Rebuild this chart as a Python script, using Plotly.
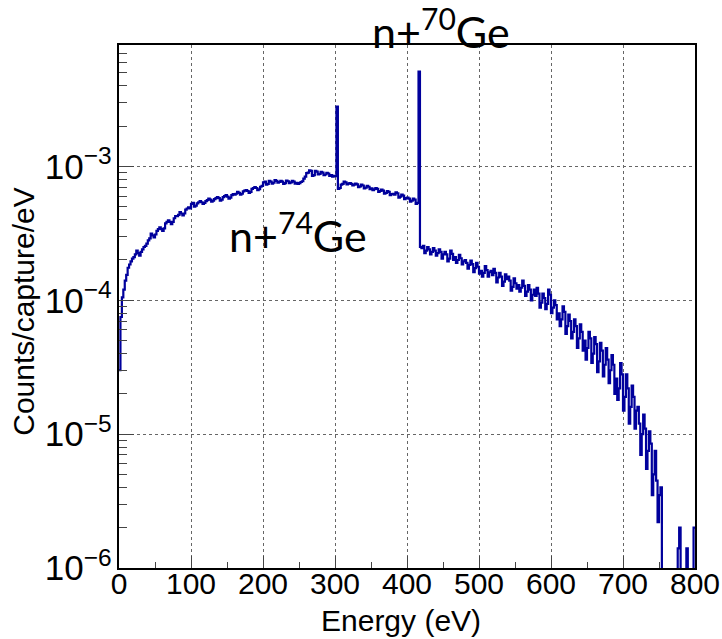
import numpy as np
import plotly.graph_objects as go

# Histogram: 2 eV bins from 0 to 800 eV; values in units of 1e-4 counts/capture/eV
bin_width_eV = 2
counts_e4 = [
    # 0-40 eV
    0.30, 0.75, 1.05, 1.20, 1.40, 1.55, 1.75, 1.85, 1.95, 2.05,
    2.10, 2.20, 2.35, 2.25, 2.15, 2.30, 2.40, 2.50, 2.55, 2.65,
    # 40-80
    2.80, 2.90, 3.15, 3.05, 2.95, 3.10, 3.30, 3.40, 3.50, 3.40,
    3.30, 3.45, 3.75, 3.85, 3.95, 3.85, 3.70, 3.85, 4.10, 4.25,
    # 80-120
    4.25, 4.35, 4.55, 4.45, 4.30, 4.45, 4.75, 4.85, 4.95, 4.85,
    5.25, 5.35, 5.00, 5.10, 5.30, 5.40, 5.50, 5.40, 5.25, 5.35,
    # 120-160
    5.50, 5.60, 5.75, 5.65, 5.45, 5.55, 5.70, 5.80, 5.90, 5.80,
    5.55, 5.65, 5.90, 6.00, 6.10, 5.95, 5.75, 5.85, 6.10, 6.20,
    # 160-200
    6.15, 6.25, 6.45, 6.35, 6.15, 6.25, 6.50, 6.60, 6.65, 6.55,
    6.35, 6.45, 6.80, 6.90, 7.00, 6.90, 6.65, 6.75, 7.05, 7.15,
    # 200-240
    7.60, 7.70, 7.30, 7.40, 7.80, 7.70, 7.45, 7.55, 7.90, 7.80,
    7.55, 7.65, 7.80, 7.70, 7.40, 7.50, 7.85, 7.75, 7.50, 7.60,
    # 240-280
    7.80, 7.70, 7.45, 7.55, 7.40, 7.50, 7.65, 7.75, 8.10, 8.40,
    8.90, 9.00, 9.35, 9.25, 8.50, 8.60, 9.25, 9.15, 8.70, 8.80,
    # 280-320 (n+74Ge line at ~303 eV)
    9.10, 9.00, 8.60, 8.70, 8.95, 8.85, 8.50, 8.60, 8.40, 8.50,
    8.45, 28.0, 6.80, 6.90, 7.30, 7.40, 7.70, 7.60, 7.35, 7.45,
    # 320-360
    7.50, 7.40, 7.20, 7.30, 7.45, 7.35, 7.00, 7.10, 7.30, 7.20,
    6.85, 6.95, 7.15, 7.05, 6.75, 6.85, 6.65, 6.75, 6.90, 6.80,
    # 360-400
    6.45, 6.55, 6.70, 6.60, 6.25, 6.35, 6.55, 6.45, 6.10, 6.20,
    6.25, 6.15, 6.40, 6.30, 5.85, 5.95, 6.15, 6.05, 5.70, 5.80,
    # 400-440 (n+70Ge line at ~417 eV)
    5.85, 5.75, 5.45, 5.55, 5.75, 5.65, 5.25, 5.35, 51.0, 2.50,
    2.45, 2.55, 2.25, 2.35, 2.50, 2.40, 2.20, 2.30, 2.45, 2.35,
    # 440-480
    2.15, 2.25, 2.40, 2.30, 2.05, 2.20, 2.30, 2.20, 1.95, 2.05,
    2.35, 2.22, 2.00, 2.10, 1.90, 2.00, 2.18, 2.06, 1.85, 1.95,
    # 480-520
    2.00, 1.90, 1.72, 1.84, 1.98, 1.86, 1.62, 1.74, 1.90, 1.78,
    1.58, 1.66, 1.50, 1.60, 1.80, 1.68, 1.50, 1.62, 1.66, 1.54,
    # 520-560
    1.72, 1.60, 1.36, 1.48, 1.60, 1.50, 1.28, 1.38, 1.56, 1.44,
    1.50, 1.40, 1.18, 1.26, 1.46, 1.34, 1.22, 1.30, 1.16, 1.24,
    # 560-600
    1.40, 1.28, 1.08, 1.16, 1.30, 1.20, 1.00, 1.10, 1.20, 1.08,
    1.24, 1.12, 0.88, 0.96, 1.12, 1.04, 0.86, 0.94, 1.20, 1.10,
    # 600-640
    0.80, 0.88, 1.00, 0.92, 0.72, 0.80, 0.64, 0.72, 0.90, 0.82,
    0.56, 0.64, 0.78, 0.70, 0.52, 0.58, 0.72, 0.64, 0.44, 0.52,
    # 640-680
    0.66, 0.58, 0.42, 0.50, 0.36, 0.44, 0.58, 0.52, 0.34, 0.40,
    0.53, 0.47, 0.29, 0.35, 0.48, 0.42, 0.27, 0.33, 0.44, 0.36,
    # 680-720
    0.24, 0.30, 0.39, 0.33, 0.20, 0.26, 0.18, 0.22, 0.34, 0.28,
    0.15, 0.19, 0.28, 0.22, 0.12, 0.16, 0.23, 0.19, 0.11, 0.15,
    # 720-760
    0.16, 0.12, 0.07, 0.10, 0.14, 0.11, 0.055, 0.075, 0.105, 0.085,
    0.035, 0.05, 0.075, 0.045, 0.022, 0.035, 0.04, 0.0, 0.0, 0.0,
    # 760-800
    0.0, 0.0, 0.0, 0.0, 0.0, 0.0, 0.0, 0.0, 0.014, 0.02,
    0.0, 0.0, 0.0, 0.0, 0.014, 0.0, 0.0, 0.0, 0.0, 0.02,
]

x_ticks = [0, 100, 200, 300, 400, 500, 600, 700, 800]
x_label = "Energy (eV)"
y_label = "Counts/capture/eV"
peak_labels = ["n+<sup>70</sup>Ge", "n+<sup>74</sup>Ge"]

# ---- build step histogram ----
vals = np.array(counts_e4) * 1e-4
floor = 1e-8  # empty bins drawn below the axis floor (as ROOT does)
vals = np.where(vals > 0, vals, floor)
edges = np.arange(len(counts_e4) + 1) * bin_width_eV
y_step = np.append(vals, vals[-1])

fig = go.Figure()
fig.add_trace(go.Scatter(
    x=edges, y=y_step, mode="lines", line_shape="hv",
    line=dict(color="#00009c", width=2.2), showlegend=False,
))

axis_font = dict(family="Liberation Sans, Arial, sans-serif", size=30, color="black")

fig.update_layout(
    width=722, height=639,
    margin=dict(l=119, r=27, t=45, b=71, autoexpand=False),
    paper_bgcolor="white", plot_bgcolor="white",
    font=axis_font,
    xaxis=dict(
        range=[0, 800], tickvals=x_ticks, ticks="inside", ticklen=12, tickwidth=1,
        tickcolor="#444", automargin=False, ticklabelstandoff=-12,
        minor=dict(ticks="inside", ticklen=6, dtick=50, tickcolor="#444", showgrid=False),
        showline=True, linecolor="black", linewidth=1.5, mirror=True,
        showgrid=True, gridcolor="#666", griddash="dot", gridwidth=1,
        tickfont=dict(size=30), zeroline=False,
    ),
    yaxis=dict(
        type="log", range=[-6, -2.093], dtick=1, exponentformat="power",
        ticks="inside", ticklen=15, tickwidth=1, tickcolor="#444", automargin=False,
        minor=dict(ticks="inside", ticklen=8, dtick="D1", tickcolor="#444", showgrid=False),
        showline=True, linecolor="black", linewidth=1.5, mirror=True,
        showgrid=True, gridcolor="#666", griddash="dot", gridwidth=1,
        tickfont=dict(size=28), zeroline=False,
    ),
    annotations=[
        dict(text=y_label, xref="paper", yref="paper", x=-95/576, y=0.49,
             textangle=-90, showarrow=False, font=dict(size=30),
             xanchor="center", yanchor="middle"),
        dict(text=x_label, xref="paper", yref="paper", x=0.49, y=-52/523,
             showarrow=False, font=dict(size=30), xanchor="center", yanchor="middle"),
        dict(text=peak_labels[0], xref="paper", yref="paper", x=(441-119)/576, y=1 + 17/523,
             showarrow=False, font=dict(family="Lato, sans-serif", size=43),
             xanchor="center", yanchor="middle"),
        dict(text=peak_labels[1], xref="paper", yref="paper", x=(298-119)/576, y=(568-232)/523,
             showarrow=False, font=dict(family="Lato, sans-serif", size=43),
             xanchor="center", yanchor="middle"),
    ],
)

fig.write_html("out.html")
